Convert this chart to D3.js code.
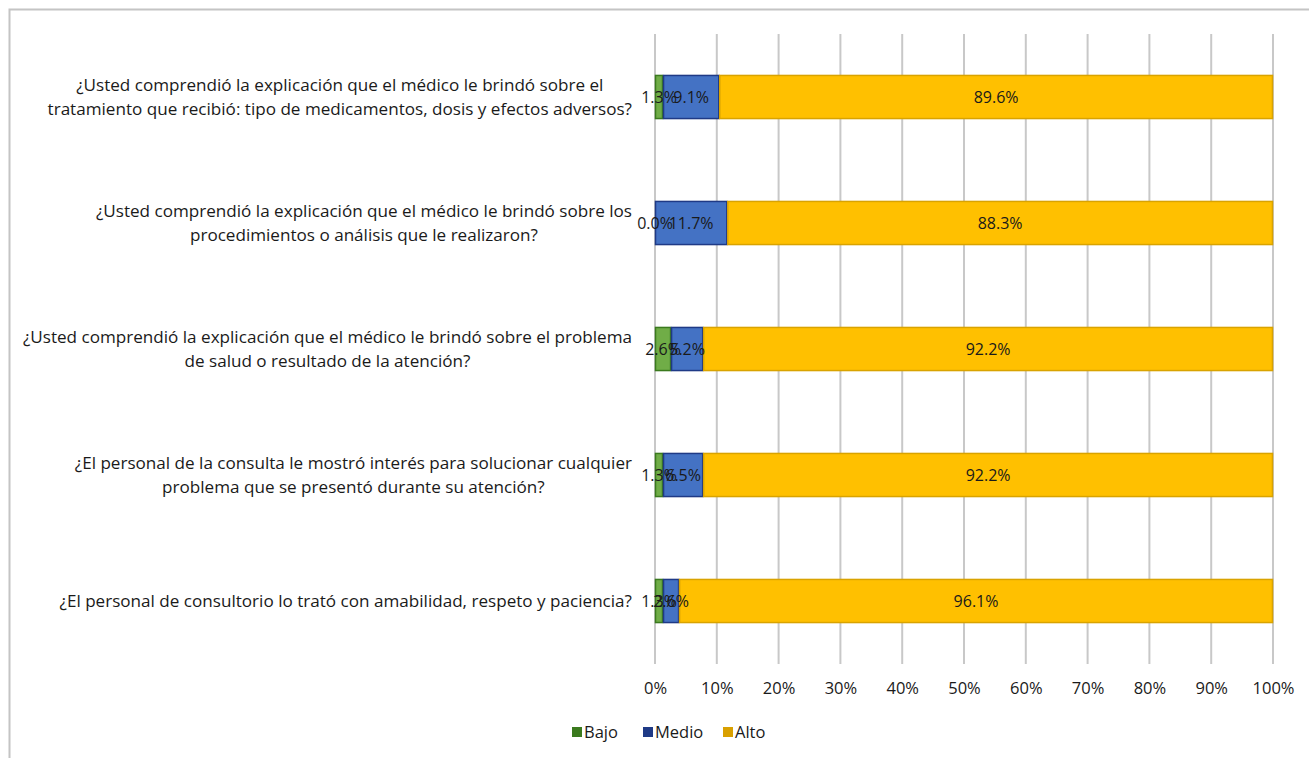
<!DOCTYPE html>
<html>
<head>
<meta charset="utf-8">
<script src="https://cdn.jsdelivr.net/npm/d3@7"></script>
<style>
  html, body { margin: 0; padding: 0; background: #fff; }
  svg { display: block; }
  text { font-family: "Open Sans", "Noto Sans", sans-serif; fill: #1a1a1a; }
</style>
</head>
<body>
<svg id="chart" width="1309" height="758"></svg>
<script>
// Survey questions (top to bottom), each split into display lines
const questions = [
  ["¿Usted comprendió la explicación que el médico le brindó sobre el",
   "tratamiento que recibió: tipo de medicamentos, dosis y efectos adversos?"],
  ["¿Usted comprendió la explicación que el médico le brindó sobre los",
   "procedimientos o análisis que le realizaron?"],
  ["¿Usted comprendió la explicación que el médico le brindó sobre el problema",
   "de salud o resultado de la atención?"],
  ["¿El personal de la consulta le mostró interés para solucionar cualquier",
   "problema que se presentó durante su atención?"],
  ["¿El personal de consultorio lo trató con amabilidad, respeto y paciencia?"]
];

// Percentage per level, same order as questions
const bajo  = [1.3, 0.0, 2.6, 1.3, 1.3];
const medio = [9.1, 11.7, 5.2, 6.5, 2.6];
const alto  = [89.6, 88.3, 92.2, 92.2, 96.1];

const seriesNames = ["Bajo", "Medio", "Alto"];
const tickValues = [0, 10, 20, 30, 40, 50, 60, 70, 80, 90, 100];

const fills   = { Bajo: "#70ad47", Medio: "#4472c4", Alto: "#ffc000" };
const strokes = { Bajo: "#3b7a1e", Medio: "#1f3a86", Alto: "#d9a300" };
const swatch  = { Bajo: "#3b7a1e", Medio: "#1f3a86", Alto: "#d9a000" };

const svg = d3.select("#chart");

// outer frame
svg.append("rect")
  .attr("x", 9.5).attr("y", 9.5)
  .attr("width", 1320).attr("height", 780)
  .attr("fill", "none").attr("stroke", "#c4c4c4").attr("stroke-width", 2);

const plot = { left: 655, right: 1273, top: 34, bottom: 664 };

const x = d3.scaleLinear().domain([0, 100]).range([plot.left, plot.right]);
const y = d3.scaleBand()
  .domain(d3.range(questions.length))
  .range([plot.top, plot.bottom])
  .paddingInner(0.65).paddingOuter(0.325);

// gridlines
svg.append("g")
  .selectAll("line")
  .data(tickValues)
  .join("line")
  .attr("x1", d => x(d)).attr("x2", d => x(d))
  .attr("y1", plot.top).attr("y2", plot.bottom)
  .attr("stroke", "#c8c8c8").attr("stroke-width", 2);

// x axis labels
const axis = d3.axisBottom(x).tickValues(tickValues).tickFormat(d => d + "%").tickSize(0).tickPadding(0);
const gx = svg.append("g").attr("transform", `translate(0, ${plot.bottom + 18})`).call(axis);
gx.select(".domain").remove();
gx.selectAll("text").attr("font-size", 16.5).attr("fill", "#1a1a1a")
  .style("font-family", "'Open Sans', 'Noto Sans', sans-serif");

// stacked data
const rows = questions.map((q, i) => ({ i, Bajo: bajo[i], Medio: medio[i], Alto: alto[i] }));
const stack = d3.stack().keys(seriesNames)(rows);
const segments = stack.flatMap(s => s.map(d => ({ key: s.key, d })));

svg.append("g").selectAll("rect")
  .data(segments)
  .join("rect")
  .attr("x", v => x(v.d[0]) + 0.5)
  .attr("y", v => y(v.d.data.i) + 0.5)
  .attr("width", v => Math.max(0, x(v.d[1]) - x(v.d[0]) - 1))
  .attr("height", y.bandwidth() - 1)
  .attr("fill", v => fills[v.key])
  .attr("stroke", v => strokes[v.key])
  .attr("stroke-width", v => (v.d[1] - v.d[0]) > 0 ? 1.5 : 0);

// value labels centred in each segment, drawn above all bars
svg.append("g").selectAll("text")
  .data(segments)
  .join("text")
  .attr("x", v => x((v.d[0] + v.d[1]) / 2))
  .attr("y", v => y(v.d.data.i) + y.bandwidth() / 2)
  .attr("dy", "0.36em")
  .attr("text-anchor", "middle")
  .attr("font-size", 16)
  .text(v => (v.d[1] - v.d[0]).toFixed(1) + "%");

// category labels, centred block whose widest line ends near the axis
const labelRight = 632;
const lineH = 24;
const catG = svg.append("g");
questions.forEach((lines, i) => {
  const g = catG.append("g");
  const cy = y(i) + y.bandwidth() / 2;
  const texts = lines.map((ln, k) =>
    g.append("text")
      .attr("y", cy + (k - (lines.length - 1) / 2) * lineH)
      .attr("dy", "0.36em")
      .attr("text-anchor", "middle")
      .attr("font-size", 17.1)
      .text(ln));
  const w = d3.max(texts, t => t.node().getComputedTextLength());
  texts.forEach(t => t.attr("x", labelRight - w / 2));
});

// legend
const legend = svg.append("g").attr("transform", "translate(572, 732)");
const legendX = [0, 71, 151];
seriesNames.forEach((n, k) => {
  const g = legend.append("g").attr("transform", `translate(${legendX[k]}, 0)`);
  g.append("rect").attr("x", 0).attr("y", -5).attr("width", 10).attr("height", 10)
    .attr("fill", swatch[n]);
  g.append("text").attr("x", 12).attr("y", 0).attr("dy", "0.36em")
    .attr("font-size", 16.5).text(n);
});
</script>
</body>
</html>
